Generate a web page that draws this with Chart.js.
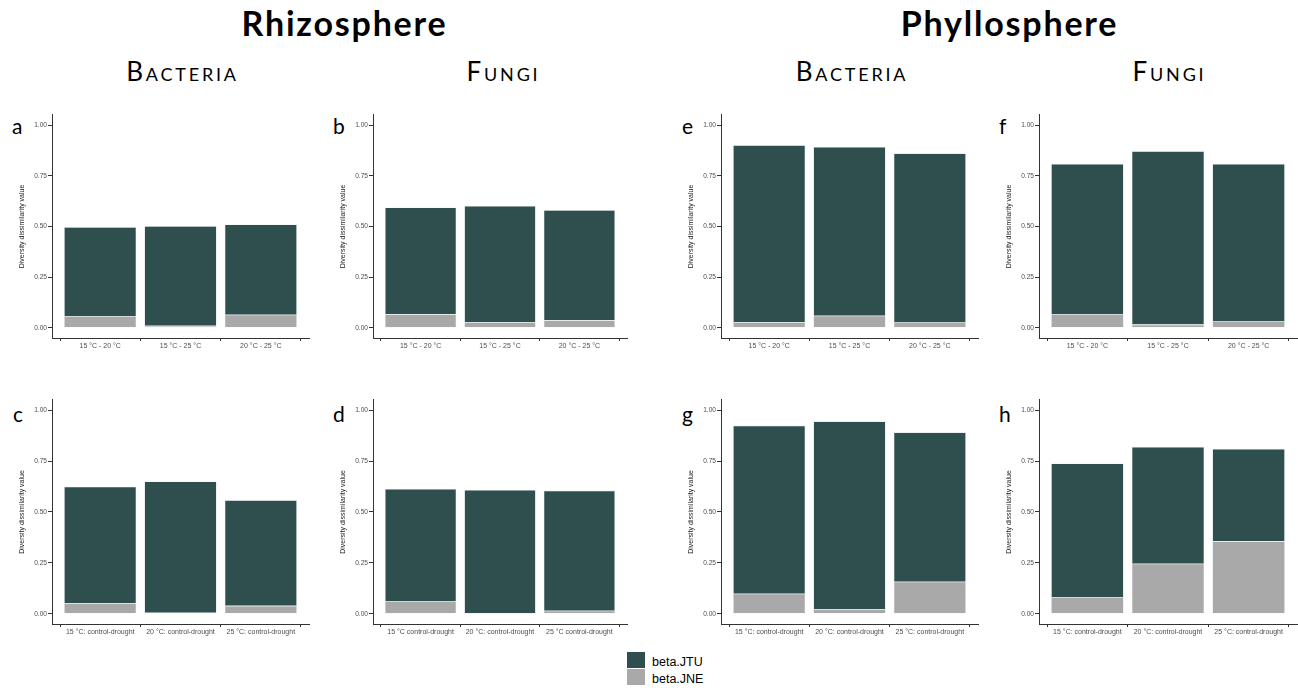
<!DOCTYPE html>
<html><head><meta charset="utf-8">
<script src="https://cdn.jsdelivr.net/npm/chart.js@4.4.0/dist/chart.umd.min.js"></script>
<style>
html,body{margin:0;padding:0;background:#fff;}
#fig{position:relative;width:1298px;height:688px;overflow:hidden;font-family:Lato,"Open Sans",sans-serif;}
canvas{position:absolute;}
.t{position:absolute;white-space:nowrap;line-height:1.2;color:#000;}
.c{transform:translateX(-50%);}
.main{font-weight:700;font-size:34px;letter-spacing:1.8px;}
.sub{font-size:26px;font-variant:small-caps;letter-spacing:2.8px;}
.let{font-size:21px;}
.sw{position:absolute;width:18px;height:16px;}
.lg{position:absolute;font-family:"Liberation Sans",Arial,sans-serif;font-size:12.5px;line-height:16px;color:#000;white-space:nowrap;}
</style></head>
<body>
<div id="fig">
  <div class="t c main" style="left:344.5px;top:3.4px">Rhizosphere</div>
  <div class="t c main" style="left:1009.5px;top:3.4px">Phyllosphere</div>
  <div class="t c sub" style="left:182.5px;top:56.3px">Bacteria</div>
  <div class="t c sub" style="left:503.5px;top:56.3px">Fungi</div>
  <div class="t c sub" style="left:852px;top:56.3px">Bacteria</div>
  <div class="t c sub" style="left:1169.5px;top:56.3px">Fungi</div>
  <div class="t let" style="left:12px;top:113.3px">a</div>
  <div class="t let" style="left:333px;top:113.3px">b</div>
  <div class="t let" style="left:682px;top:113.3px">e</div>
  <div class="t let" style="left:999px;top:113.3px">f</div>
  <div class="t let" style="left:13px;top:401.3px">c</div>
  <div class="t let" style="left:333px;top:401.3px">d</div>
  <div class="t let" style="left:682px;top:401.3px">g</div>
  <div class="t let" style="left:999px;top:401.3px">h</div>
  <div class="sw" style="left:627px;top:652px;background:#2F4F4F"></div>
  <div class="sw" style="left:627px;top:669px;background:#A9A9A9"></div>
  <div class="lg" id="lg0" style="left:652px;top:654.4px"></div>
  <div class="lg" id="lg1" style="left:652px;top:670.7px"></div>
</div>
<script>
// ---- data ----
const tempCats = ["15 °C - 20 °C", "15 °C - 25 °C", "20 °C - 25 °C"];
const droughtCats = ["15 °C: control-drought", "20 °C: control-drought", "25 °C: control-drought"];
const droughtCatsD = ["15 °C control-drought", "20 °C: control-drought", "25 °C control-drought"];
const yTickValues = [0, 0.25, 0.5, 0.75, 1];
const seriesNames = ["beta.JTU", "beta.JNE"];
const yTitle = "Diversity dissimilarity value";

const jtuA = [0.439, 0.492, 0.445], jneA = [0.058, 0.010, 0.065];
const jtuB = [0.527, 0.573, 0.544], jneB = [0.067, 0.028, 0.037];
const jtuC = [0.572, 0.645, 0.519], jneC = [0.052, 0.005, 0.039];
const jtuD = [0.552, 0.605, 0.590], jneD = [0.061, 0.003, 0.015];
const jtuE = [0.873, 0.833, 0.832], jneE = [0.028, 0.060, 0.029];
const jtuF = [0.743, 0.855, 0.775], jneF = [0.066, 0.016, 0.034];
const jtuG = [0.825, 0.922, 0.733], jneG = [0.099, 0.023, 0.158];
const jtuH = [0.656, 0.574, 0.454], jneH = [0.082, 0.246, 0.356];

// ---- layout ----
const panels = [
  {cats: tempCats, jtu: jtuA, jne: jneA, left: 7, top: 110, right: 309, bottom: 338},
  {cats: tempCats, jtu: jtuB, jne: jneB, left: 328, top: 110, right: 627, bottom: 338},
  {cats: tempCats, jtu: jtuE, jne: jneE, left: 676, top: 110, right: 978, bottom: 338},
  {cats: tempCats, jtu: jtuF, jne: jneF, left: 994, top: 110, right: 1297, bottom: 338},
  {cats: droughtCats, jtu: jtuC, jne: jneC, left: 7, top: 395, right: 309, bottom: 624},
  {cats: droughtCatsD, jtu: jtuD, jne: jneD, left: 328, top: 395, right: 627, bottom: 624},
  {cats: droughtCats, jtu: jtuG, jne: jneG, left: 676, top: 395, right: 978, bottom: 624},
  {cats: droughtCats, jtu: jtuH, jne: jneH, left: 994, top: 395, right: 1297, bottom: 624}
];

document.getElementById('lg0').textContent = seriesNames[0];
document.getElementById('lg1').textContent = seriesNames[1];

const fig = document.getElementById('fig');
const tickFont = {family: '"Liberation Sans", Arial, sans-serif', size: 6.6};
const xFont = {family: '"Liberation Sans", Arial, sans-serif', size: 7};

function build(p) {
  const cv = document.createElement('canvas');
  const w = p.right - p.left + 1, h = p.bottom - p.top + 20;
  cv.width = w; cv.height = h;
  cv.style.width = w + 'px'; cv.style.height = h + 'px';
  cv.style.left = p.left + 'px'; cv.style.top = p.top + 'px';
  fig.appendChild(cv);
  const common = {categoryPercentage: 0.9, barPercentage: 1, borderWidth: 0.6, borderColor: '#dde2e2'};
  new Chart(cv, {
    type: 'bar',
    data: {
      datasets: [
        Object.assign({label: seriesNames[1], data: p.jne.map((v, i) => ({x: i + 1, y: v})), backgroundColor: '#A9A9A9'}, common),
        Object.assign({label: seriesNames[0], data: p.jtu.map((v, i) => ({x: i + 1, y: v})), backgroundColor: '#2F4F4F'}, common)
      ]
    },
    options: {
      responsive: false, animation: false, devicePixelRatio: 1,
      layout: {padding: {top: 3, right: 1, left: 0, bottom: 0}},
      plugins: {legend: {display: false}, tooltip: {enabled: false}},
      scales: {
        x: {
          type: 'linear', stacked: true, min: 0.4, max: 3.6, offset: false,
          afterBuildTicks: s => { s.ticks = p.cats.map((c, i) => ({value: i + 1})); },
          afterFit: s => { s.height = 20; },
          ticks: {callback: v => p.cats[Math.round(v) - 1], font: xFont, color: '#4d4d4d', padding: 1, maxRotation: 0, minRotation: 0, autoSkip: false},
          grid: {display: true, drawOnChartArea: false, drawTicks: true, tickLength: 3, color: '#333'},
          border: {display: true, color: '#333', width: 1}
        },
        y: {
          type: 'linear', stacked: true, min: -0.05, max: 1.05,
          afterBuildTicks: s => { s.ticks = yTickValues.map(v => ({value: v})); },
          afterFit: s => { s.width = 45; },
          ticks: {callback: v => v.toFixed(2), font: tickFont, color: '#4d4d4d', padding: 1, autoSkip: false},
          grid: {display: true, drawOnChartArea: false, drawTicks: true, tickLength: 4, color: '#333'},
          border: {display: true, color: '#333', width: 1},
          title: {display: true, text: yTitle, font: {family: '"Liberation Sans", Arial, sans-serif', size: 7}, color: '#222', padding: {top: 11, bottom: 0}}
        }
      }
    }
  });
}
panels.forEach(build);
</script>
</body></html>
